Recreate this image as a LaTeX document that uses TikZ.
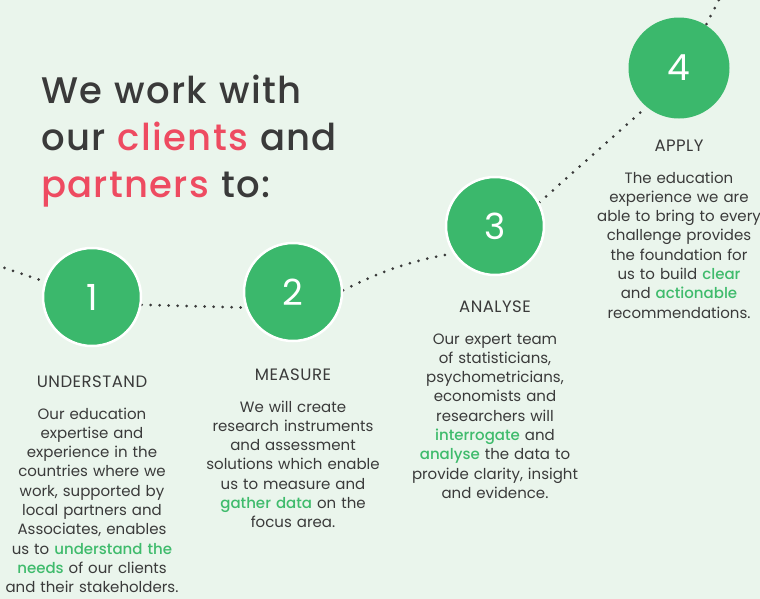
\documentclass[tikz,border=0pt]{standalone}
\usepackage{fontspec}
\setmainfont{Poppins}
\newfontfamily\medfont{Poppins Medium}
\usetikzlibrary{backgrounds}
\definecolor{bgc}{HTML}{EAF5EC}
\definecolor{cgreen}{HTML}{3BB86C}
\definecolor{hgreen}{HTML}{3FBB6C}
\definecolor{pinkc}{HTML}{EE4B61}
\definecolor{txt}{HTML}{3A3A3A}
\definecolor{dotc}{HTML}{3A3A3A}
\newcommand{\hl}[1]{{\medfont\color{hgreen}#1}}
\newcommand{\pk}[1]{{\color{pinkc}#1}}
\begin{document}
\begin{tikzpicture}[x=1pt,y=-1pt,
  circ/.style={circle, fill=cgreen, draw=white, line width=2.5pt, minimum size=98pt, inner sep=0pt, text=white, font=\fontsize{36}{36}\selectfont},
  circnb/.style={circ, draw=none, minimum size=101pt},
  dots/.style={draw=dotc, line width=3pt, line cap=round, dash pattern=on 0pt off 9pt},
  head/.style={anchor=base, inner sep=0pt, text=txt, font=\fontsize{16.5}{19.3}\selectfont\addfontfeatures{LetterSpace=3}},
  body/.style={anchor=base, text width=200pt, align=center, inner sep=0pt, text=txt, font=\fontsize{15}{19.3}\selectfont},
  title/.style={anchor=base west, text width=360pt, align=left, inner sep=0pt, text=txt, font=\medfont\fontsize{37}{47}\selectfont\addfontfeatures{LetterSpace=3.5}},
]
\useasboundingbox (0,0) rectangle (760,598);

\node[title] (ttl) at (41,103) {We work with\\our \pk{clients} and\\\pk{partners} to:};

\node[circ] (c1) at (92,297) {1};
\node[circ] (c2) at (293,292) {2};
\node[circ] (c3) at (495,226) {3};
\node[circnb] (c4) at (679,68) {4};

\coordinate (lstart) at (-4,265);
\coordinate (tend) at (722,-6);

\begin{scope}[on background layer]
  \fill[bgc] (-5,-5) rectangle (765,603);
  \draw[dots] (lstart) -- (c1.162);
  \draw[dots] (c1.-9) -- (c2.198);
  \draw[dots] (c2.2) to[bend left=8] (c3.213);
  \draw[dots] (c3.28) -- (c4.230);
  \draw[dots] (c4.58) -- (tend);
\end{scope}

\node[head] (h1) at (92,387) {UNDERSTAND};
\node[body] (b1) at (92,419) {Our education\\expertise and\\experience in the\\countries where we\\work, supported by\\local partners and\\Associates, enables\\us to \hl{understand the}\\\hl{needs} of our clients\\and their stakeholders.};

\node[head] (h2) at (293,380) {MEASURE};
\node[body] (b2) at (293,412) {We will create\\research instruments\\and assessment\\solutions which enable\\us to measure and\\\hl{gather data} on the\\focus area.};

\node[head] (h3) at (495,312) {ANALYSE};
\node[body] (b3) at (495,344) {Our expert team\\of statisticians,\\psychometricians,\\economists and\\researchers will\\\hl{interrogate} and\\\hl{analyse} the data to\\provide clarity, insight\\and evidence.};

\node[head] (h4) at (679,151) {APPLY};
\node[body] (b4) at (679,183) {The education\\experience we are\\able to bring to every\\challenge provides\\the foundation for\\us to build \hl{clear}\\and \hl{actionable}\\recommendations.};
\end{tikzpicture}
\end{document}
